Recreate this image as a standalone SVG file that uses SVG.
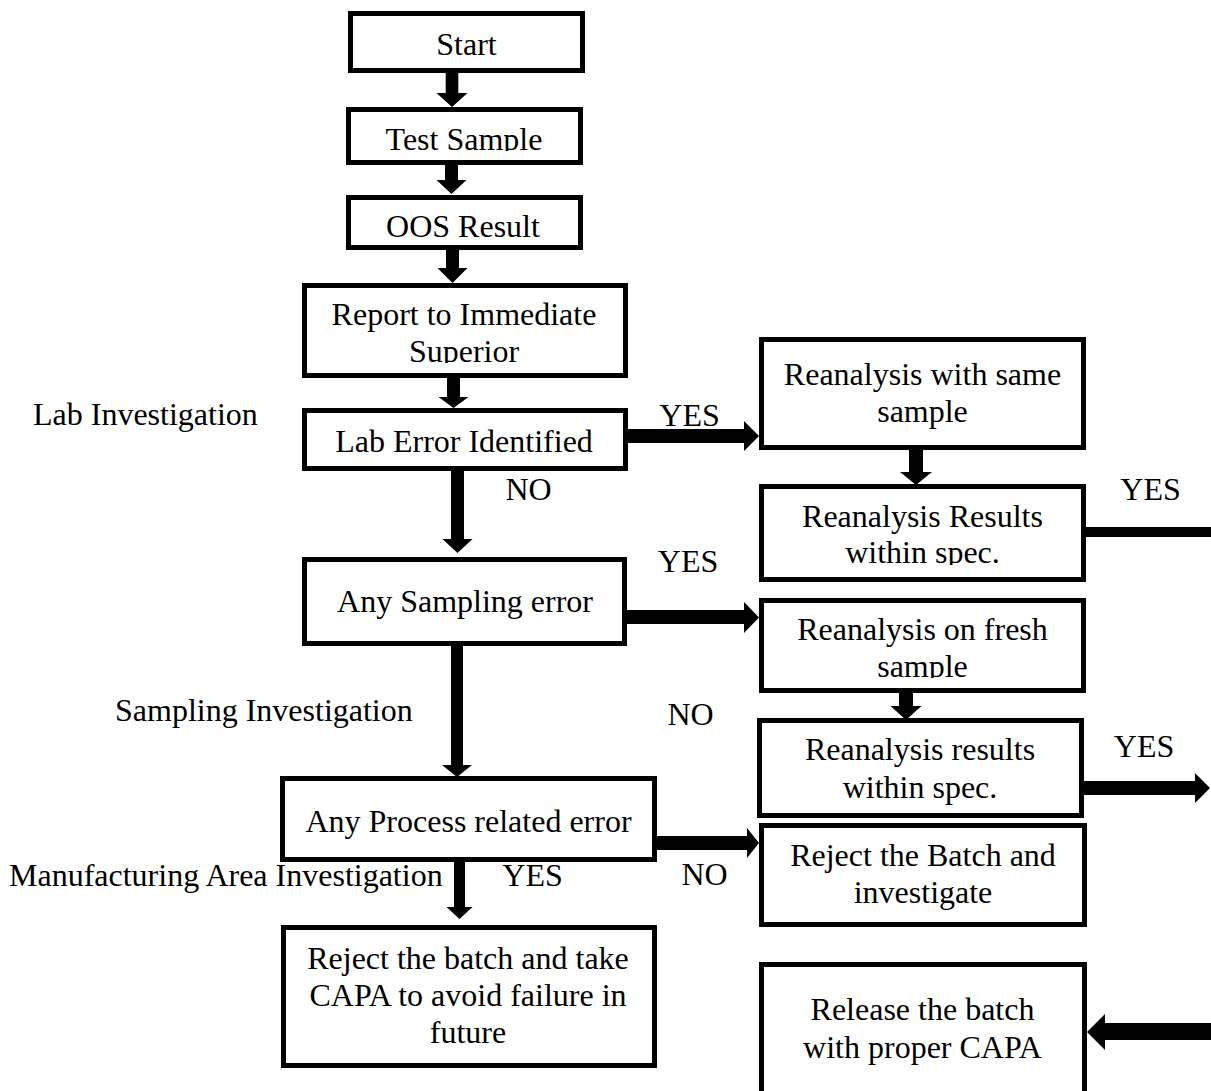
<svg xmlns="http://www.w3.org/2000/svg" width="1211" height="1091" viewBox="0 0 1211 1091">
<style>
.box{fill:#fff;stroke:#000;stroke-width:5}
.t{font-family:"Liberation Serif","Times New Roman",serif;font-size:32px;fill:#000}
.c{text-anchor:middle}
.arr{fill:#000;stroke:none}
</style>
<defs>
<clipPath id="clipTest"><rect x="350" y="110" width="230" height="41"/></clipPath>
<clipPath id="clipOOS"><rect x="350" y="198" width="230" height="40"/></clipPath>
<clipPath id="clipReport"><rect x="306" y="287" width="318" height="76"/></clipPath>
<clipPath id="clipRes1"><rect x="763" y="488" width="319" height="77"/></clipPath>
<clipPath id="clipFresh"><rect x="763" y="602" width="319" height="76"/></clipPath>
</defs>
<rect width="1211" height="1091" fill="#fff"/>

<g id="connectors">
<polygon class="arr" points="445.7,71 458.3,71 458.3,93 467.5,93 452,107 436.5,93 445.7,93"/>
<polygon class="arr" points="445,162 458,162 458,180 466.5,180 451.5,194 436.5,180 445,180"/>
<polygon class="arr" points="446,248 459,248 459,268 467.5,268 452.5,283 437.5,268 446,268"/>
<polygon class="arr" points="447,376 460,376 460,397 468.5,397 453.5,408 438.5,397 447,397"/>
<polygon class="arr" points="451,469 464,469 464,539 472.5,539 457.5,553 442.5,539 451,539"/>
<polygon class="arr" points="451,644 463,644 463,765 472,765 457,777 442,765 451,765"/>
<polygon class="arr" points="454,857 465,857 465,907 472.5,907 459.5,919 446.5,907 454,907"/>
<polygon class="arr" points="909,448 923,448 923,472 932,472 916,485 900,472 909,472"/>
<polygon class="arr" points="899,691 913,691 913,706 921.5,706 906,720 890.5,706 899,706"/>
<polygon class="arr" points="626,429 744,429 744,421 759,436 744,451 744,443 626,443"/>
<polygon class="arr" points="625,610 744,610 744,602 759,617.5 744,633 744,624 625,624"/>
<polygon class="arr" points="655,836 747,836 747,828 759,843 747,858 747,850 655,850"/>
<polygon class="arr" points="1082,781 1195,781 1195,773 1210,788 1195,803 1195,795 1082,795"/>
<polygon class="arr" points="1211,1023 1105,1023 1105,1014 1087,1032 1105,1050 1105,1040 1211,1040"/>
<rect class="arr" x="1084" y="527" width="127" height="10"/>
<text class="t c" x="689.5" y="426">YES</text>
<text class="t c" x="1150.5" y="500">YES</text>
<text class="t c" x="528.5" y="500">NO</text>
<text class="t c" x="688" y="572">YES</text>
<text class="t c" x="690.5" y="725">NO</text>
<text class="t c" x="1144" y="757">YES</text>
<text class="t c" x="704.5" y="885">NO</text>
<text class="t c" x="532.5" y="886">YES</text>
</g>

<g id="labels">
<text class="t" x="33" y="425">Lab Investigation</text>
<text class="t" x="115" y="721">Sampling Investigation</text>
<text class="t" x="9" y="886">Manufacturing Area Investigation</text>
</g>

<g id="start">
<rect class="box" x="350.5" y="13.5" width="232" height="57"/>
<text class="t c" x="466.5" y="55">Start</text>
</g>
<g id="test-sample">
<rect class="box" x="348.5" y="109.5" width="232" height="53"/>
<text class="t c" x="464" y="150" clip-path="url(#clipTest)">Test Sample</text>
</g>
<g id="oos-result">
<rect class="box" x="348.5" y="197.5" width="232" height="50"/>
<text class="t c" x="463" y="237" clip-path="url(#clipOOS)">OOS Result</text>
</g>
<g id="report">
<rect class="box" x="304.5" y="285.5" width="321" height="90"/>
<g clip-path="url(#clipReport)">
<text class="t c" x="464" y="325">Report to Immediate</text>
<text class="t c" x="464" y="362">Superior</text>
</g>
</g>
<g id="lab-error">
<rect class="box" x="304.5" y="410.5" width="321" height="58"/>
<text class="t c" x="464" y="452">Lab Error Identified</text>
</g>
<g id="sampling-error">
<rect class="box" x="304.5" y="559.5" width="320" height="84"/>
<text class="t c" x="465" y="612">Any Sampling error</text>
</g>
<g id="process-error">
<rect class="box" x="282.5" y="778.5" width="372" height="81"/>
<text class="t c" x="468.5" y="832">Any Process related error</text>
</g>
<g id="reject-capa">
<rect class="box" x="283.5" y="927.5" width="371" height="138"/>
<text class="t c" x="468" y="969">Reject the batch and take</text>
<text class="t c" x="468" y="1006">CAPA to avoid failure in</text>
<text class="t c" x="468" y="1043">future</text>
</g>
<g id="reanalysis-same">
<rect class="box" x="761.5" y="339.5" width="322" height="108"/>
<text class="t c" x="922.5" y="385">Reanalysis with same</text>
<text class="t c" x="922.5" y="422">sample</text>
</g>
<g id="results-1">
<rect class="box" x="761.5" y="486.5" width="322" height="93"/>
<g clip-path="url(#clipRes1)">
<text class="t c" x="922.5" y="527">Reanalysis Results</text>
<text class="t c" x="922.5" y="563">within spec.</text>
</g>
</g>
<g id="reanalysis-fresh">
<rect class="box" x="761.5" y="600.5" width="322" height="90"/>
<g clip-path="url(#clipFresh)">
<text class="t c" x="922.5" y="640">Reanalysis on fresh</text>
<text class="t c" x="922.5" y="677">sample</text>
</g>
</g>
<g id="results-2">
<rect class="box" x="759.5" y="720.5" width="322" height="95"/>
<text class="t c" x="920" y="760">Reanalysis results</text>
<text class="t c" x="920" y="798">within spec.</text>
</g>
<g id="reject-batch">
<rect class="box" x="761.5" y="825.5" width="323" height="99"/>
<text class="t c" x="923" y="866">Reject the Batch and</text>
<text class="t c" x="923" y="903">investigate</text>
</g>
<g id="release">
<rect class="box" x="761.5" y="964.5" width="323" height="140"/>
<text class="t c" x="922.5" y="1020">Release the batch</text>
<text class="t c" x="922.5" y="1058">with proper CAPA</text>
</g>
</svg>
